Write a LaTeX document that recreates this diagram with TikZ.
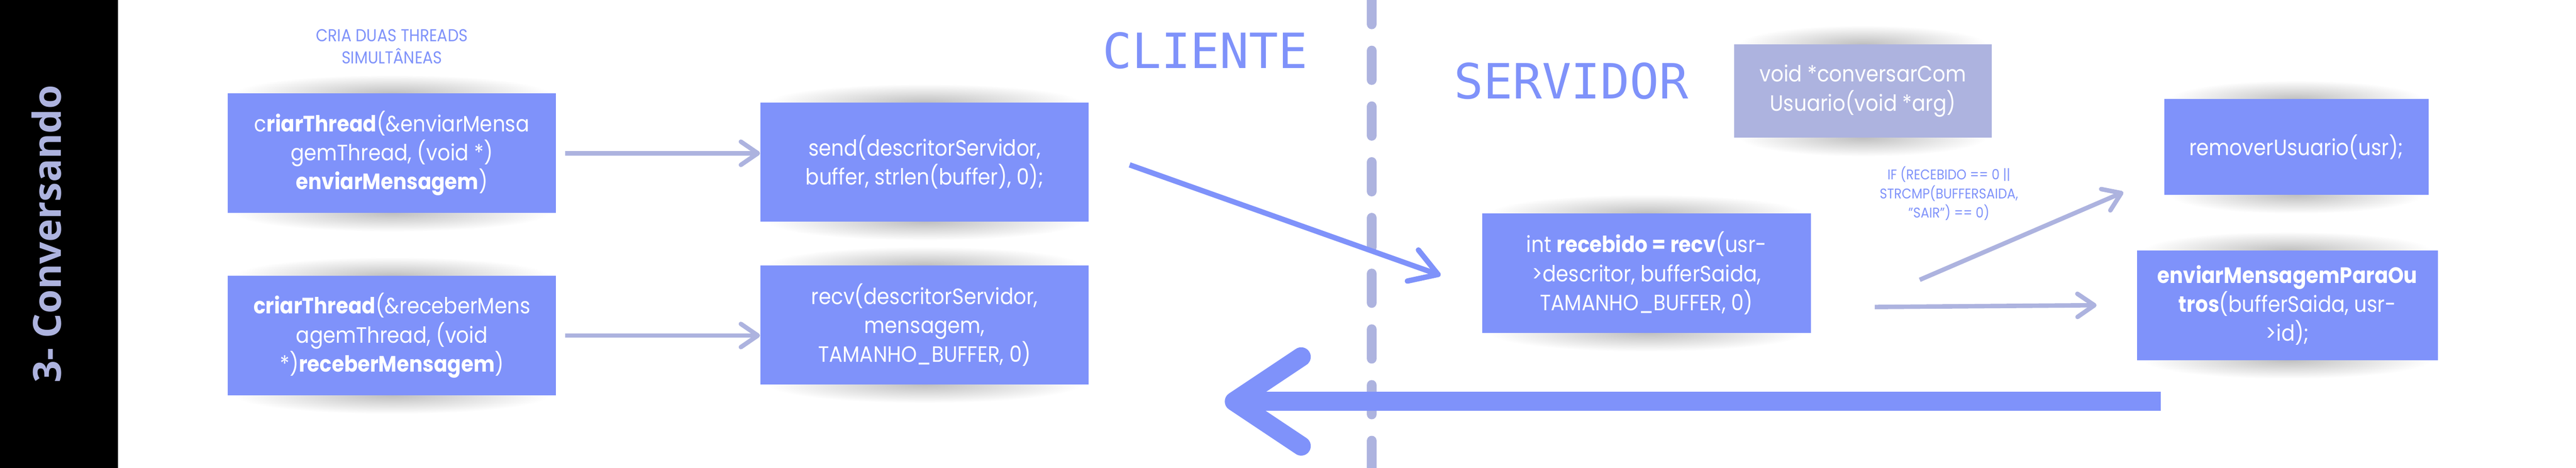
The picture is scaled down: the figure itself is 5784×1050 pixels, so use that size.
\documentclass[tikz,border=0pt]{standalone}
\usepackage{fontspec}
\setmainfont{Poppins}[FakeStretch=0.9]
\newfontfamily\titulofont{Open Sans}
\newfontfamily\ladofont{DejaVu Sans Mono}
\usetikzlibrary{arrows.meta,calc}
\definecolor{azul}{HTML}{7F92FA}
\definecolor{lilas}{HTML}{ADB3DF}
\def\sombra(#1,#2)(#3:#4){%
	\shade[inner color=black!25, outer color=white] (#1,#2-#4/2) ellipse ({0.48*#3} and 42);
	\shade[inner color=black!25, outer color=white] (#1,#2+#4/2) ellipse ({0.48*#3} and 42);}
\tikzset{
	caixa/.style={fill=azul, text=white, align=center, inner sep=0pt, font=\fontsize{14.2}{18.5}\selectfont},
	seta/.style={draw=lilas, line width=0.1cm, -{Straight Barb[length=0.38cm, width=0.52cm, round]}},
	setaforte/.style={draw=azul, line width=0.12cm, -{Straight Barb[length=0.6cm, width=0.74cm, round]}},
	setavolta/.style={draw=azul, line width=0.43cm, -{Straight Barb[length=1.5cm, width=2cm, round]}},
	divisoria/.style={draw=lilas, line width=0.23cm, line cap=round, dash pattern=on 0.65cm off 0.6cm},
	nota/.style={text=azul, align=center, font=\fontsize{11}{14.2}\selectfont},
	lado/.style={text=azul, anchor=base, font=\ladofont\fontsize{31}{31}\selectfont}
}
\begin{document}
\begin{tikzpicture}[x=0.01cm, y=-0.01cm]
	%%%%% START %%%%%
	\useasboundingbox (0,0) rectangle (5784,1050);
	\fill[white] (0,0) rectangle (5784,1050);
	\fill[black] (0,0) rectangle (265,1050);
	\node[rotate=90, anchor=base, text=lilas, font=\titulofont\bfseries\fontsize{24.7}{24.7}\selectfont] (titulo) at (137,525) {3- Conversando};
	
	% sombras
	\sombra(880,344)(737:268)
	\sombra(880,753)(737:268)
	\sombra(2076,364)(737:267)
	\sombra(2076,729)(737:267)
	\sombra(3697,613)(737:268)
	\sombra(4183,204)(578:210)
	\sombra(5156,330)(593:215)
	\sombra(5136,685)(675:246)
	
	% cliente
	\node[nota] (duas) at (880,104) {CRIA DUAS THREADS\\SIMULTÂNEAS};
	\node[caixa, minimum width=7.37cm, minimum height=2.68cm] (criaEnv) at (880,344) {c\textbf{riarThread}(\&enviarMensa\\gemThread, (void *)\\\textbf{enviarMensagem})};
	\node[caixa, minimum width=7.37cm, minimum height=2.68cm] (criaRec) at (880,753) {\textbf{criarThread}(\&receberMens\\agemThread, (void\\*)\textbf{receberMensagem})};
	\node[caixa, minimum width=7.37cm, minimum height=2.67cm] (send) at (2076,364) {send(descritorServidor,\\buffer, strlen(buffer), 0);};
	\node[caixa, minimum width=7.37cm, minimum height=2.67cm] (recv) at (2076,729) {recv(descritorServidor,\\mensagem,\\TAMANHO\_BUFFER, 0)};
	\node[lado] (cliente) at (2706,153) {CLIENTE};
	
	\draw[divisoria] (3080,-11) -- (3080,1060);
	
	% servidor
	\node[lado] (servidor) at (3528,221) {SERVIDOR};
	\node[caixa, fill=lilas, minimum width=5.78cm, minimum height=2.1cm] (conversar) at (4183,204) {void *conversarCom\\Usuario(void *arg)};
	\node[caixa, minimum width=7.37cm, minimum height=2.68cm] (recebido) at (3697,613) {int \textbf{recebido = recv}(usr-\\>descritor, bufferSaida,\\TAMANHO\_BUFFER, 0)};
	\node[nota, font=\fontsize{9}{12.2}\selectfont] (condicao) at (4376,434) {IF (RECEBIDO == 0 ||\\STRCMP(BUFFERSAIDA,\\"SAIR") == 0)};
	\node[caixa, minimum width=5.93cm, minimum height=2.15cm] (remover) at (5156,330) {removerUsuario(usr);};
	\node[caixa, minimum width=6.75cm, minimum height=2.46cm] (outros) at (5136,685) {\textbf{enviarMensagemParaOu}\\\textbf{tros}(bufferSaida, usr-\\>id);};
	
	% setas
	\draw[seta] ([xshift=0.2cm]criaEnv.east) -- (criaEnv.east -| send.west);
	\draw[seta] ([xshift=0.2cm]criaRec.east) -- (criaRec.east -| recv.west);
	\draw[setaforte] ([shift={(91,6)}]send.east) -- ([shift={(-93,5)}]recebido.west);
	\draw[seta] ([shift={(244,15)}]recebido.east) -- ([shift={(-91,-7)}]remover.south west);
	\draw[seta] ([shift={(143,76)}]recebido.east) -- ([xshift=-0.9cm]outros.west);
	
	\coordinate (voltaIni) at (4852,901);
	\coordinate (voltaFim) at (2750,901);
	\draw[setavolta] (voltaIni) -- (voltaFim);
	%%%%% END %%%%%
\end{tikzpicture}
\end{document}
